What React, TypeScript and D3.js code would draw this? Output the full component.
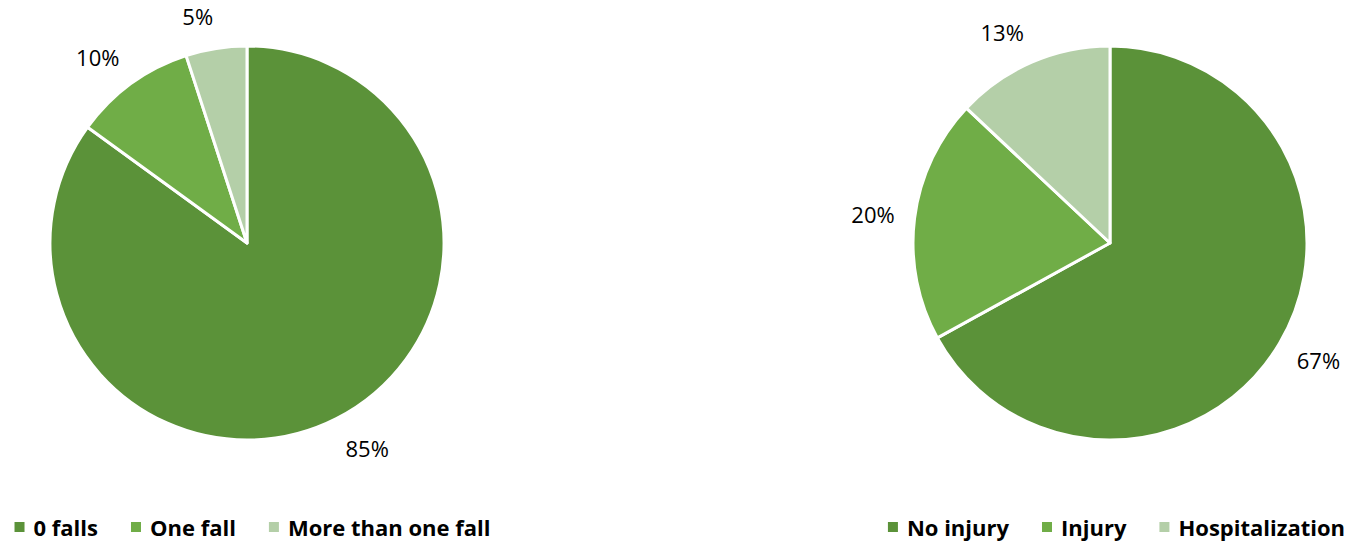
import React, { useEffect, useRef } from "react";
import * as d3 from "d3";

const fallsCategories = ["0 falls", "One fall", "More than one fall"];
const fallsValues = [85, 10, 5];
const injuryCategories = ["No injury", "Injury", "Hospitalization"];
const injuryValues = [67, 20, 13];
const colors = ["#5B9239", "#70AD47", "#B4CFA8"];

const W = 1348;
const H = 544;
const FONT = "'Open Sans', 'Liberation Sans', sans-serif";

export default function App() {
  const ref = useRef<SVGSVGElement | null>(null);

  useEffect(() => {
    document.body.style.margin = "0";
    const svg = d3.select(ref.current);
    svg.selectAll("*").remove();

    const R = 197;
    const drawPie = (cx: number, cy: number, cats: string[], vals: number[], legendCx: number) => {
      const g = svg.append("g").attr("transform", `translate(${cx},${cy})`);
      const pie = d3.pie<number>().sort(null).value((d) => d);
      const arcs = pie(vals);
      const arc = d3.arc<d3.PieArcDatum<number>>().innerRadius(0).outerRadius(R);
      g.selectAll("path")
        .data(arcs)
        .enter()
        .append("path")
        .attr("d", arc as any)
        .attr("fill", (_, i) => colors[i])
        .attr("stroke", "#fff")
        .attr("stroke-width", 3)
        .attr("stroke-linejoin", "round");

      const lr = R + 20;
      arcs.forEach((a, i) => {
        const mid = (a.startAngle + a.endAngle) / 2;
        const dx = Math.sin(mid);
        const dy = -Math.cos(mid);
        const x = lr * dx;
        const y = lr * dy + 13 * dy;
        g.append("text")
          .attr("x", x)
          .attr("y", y)
          .attr("text-anchor", dx < 0 ? "end" : "start")
          .attr("dominant-baseline", "central")
          .attr("font-family", FONT)
          .attr("font-size", 22)
          .attr("fill", "#000")
          .text(`${vals[i]}%`);
      });

      const lg = svg.append("g");
      const sq = 10;
      const gapSqText = 9;
      const gapItems = 33;
      const items: { w: number; text: any; rect: any }[] = [];
      cats.forEach((c, i) => {
        const rect = lg.append("rect").attr("width", sq).attr("height", sq).attr("fill", colors[i]);
        const text = lg
          .append("text")
          .attr("font-family", FONT)
          .attr("font-weight", "bold")
          .attr("font-size", 22)
          .attr("dominant-baseline", "central")
          .attr("fill", "#000")
          .text(c);
        const w = (text.node() as SVGTextElement).getComputedTextLength();
        items.push({ w, text, rect });
      });
      const total = items.reduce((s, it) => s + sq + gapSqText + it.w, 0) + gapItems * (items.length - 1);
      let x = legendCx - total / 2;
      const ly = 527;
      items.forEach((it) => {
        it.rect.attr("x", x).attr("y", ly - sq / 2);
        x += sq + gapSqText;
        it.text.attr("x", x).attr("y", ly);
        x += it.w + gapItems;
      });
    };

    drawPie(247, 243, fallsCategories, fallsValues, 252.5);
    drawPie(1110, 243, injuryCategories, injuryValues, 1116.5);
  }, []);

  return <svg ref={ref} width={W} height={H} style={{ display: "block", background: "#fff" }} />;
}
